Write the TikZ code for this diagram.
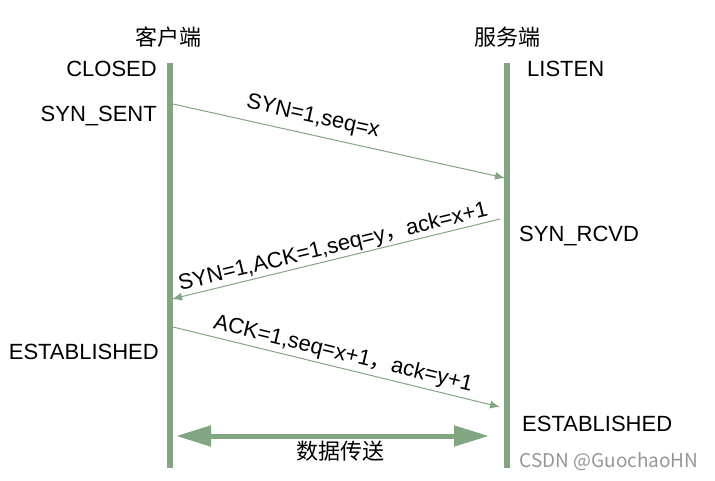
\documentclass[tikz,border=0pt]{standalone}
\usepackage{fontspec}
\setmainfont{Liberation Sans}
\newfontfamily\cjk{Noto Sans CJK SC}
\usepackage{tikz}
\usetikzlibrary{positioning}
\usetikzlibrary{arrows.meta}
\definecolor{linegreen}{RGB}{130,166,130}
\definecolor{markgray}{RGB}{150,150,150}
\tikzset{>=Latex}
\tikzset{
  lifeline/.style={linegreen,line width=6pt},
  msg/.style={linegreen,line width=1pt,-{Latex[length=10pt,width=8pt]}},
  bigtext/.style={font=\fontsize{22}{25}\selectfont,inner sep=0pt,text=black},
  msglabel/.style={bigtext,sloped}
}

\begin{document}
\begin{tikzpicture}[x=1pt,y=-1pt]
\useasboundingbox (0,0) rectangle (715,480);

% Lifelines
\coordinate (ctop) at (170,63);
\coordinate (cbot) at (170,468);
\coordinate (stop) at (507,63);
\coordinate (sbot) at (507,468);
\draw[lifeline] (ctop) -- (cbot);
\draw[lifeline] (stop) -- (sbot);

% Headers
\node[bigtext] (client) at (168,37) {\cjk 客户端};
\node[bigtext] (server) at (507,37) {\cjk 服务端};

% States
\node[bigtext,anchor=east] (closed) at (157,69) {CLOSED};
\node[bigtext,anchor=east] (synsent) at (157,116) {SYN\_SENT};
\node[bigtext,anchor=east] (estc) at (159,352) {ESTABLISHED};
\node[bigtext,anchor=west] (listen) at (527,69) {LISTEN};
\node[bigtext,anchor=west] (synrcvd) at (519,236) {SYN\_RCVD};
\node[bigtext,anchor=west] (ests) at (522,424) {ESTABLISHED};

% Handshake messages
\coordinate (m1a) at (173,104);
\coordinate (m1b) at (505,178);
\coordinate (m2a) at (500,219);
\coordinate (m2b) at (172,299);
\coordinate (m3a) at (173,327);
\coordinate (m3b) at (500,407);
\draw[msg] (m1a) -- node[msglabel,pos=0.41,above=7pt] {SYN=1,seq=x} (m1b);
\draw[msg] (m2a) -- node[msglabel,pos=0.5,above=1pt] {SYN=1,ACK=1,seq=y{\cjk ，}ack=x+1} (m2b);
\draw[msg] (m3a) -- node[msglabel,pos=0.51,above=3pt] {ACK=1,seq=x+1{\cjk ，}ack=y+1} (m3b);

% Data transfer
\coordinate (da) at (176,436);
\coordinate (db) at (489,436);
\draw[linegreen,line width=5pt,{Triangle[length=35pt,width=20pt]}-{Triangle[length=35pt,width=20pt]}] (da) -- (db);
\node[bigtext] (data) at (340,451) {\cjk 数据传送};

% Watermark
\node[font=\fontsize{19}{22}\selectfont\cjk,text=markgray,inner sep=0pt] (mark) at (609,462) {CSDN @GuochaoHN};

\end{tikzpicture}
\end{document}
